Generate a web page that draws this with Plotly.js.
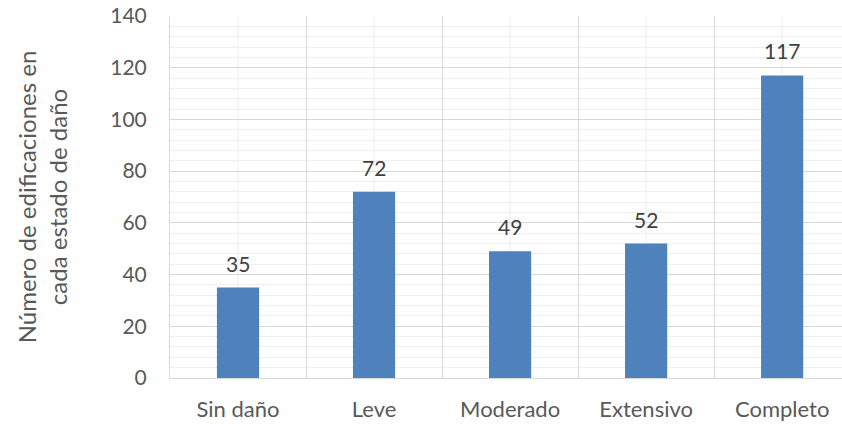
<!DOCTYPE html>
<html>
<head>
<meta charset="utf-8">
<script src="https://cdn.plot.ly/plotly-3.0.1.min.js"></script>
<style>html,body{margin:0;padding:0;background:#fff;}#chart{width:842px;height:424px;}</style>
</head>
<body>
<div id="chart"></div>
<script>
const categories = ["Sin daño", "Leve", "Moderado", "Extensivo", "Completo"];
const values = [35, 72, 49, 52, 117];
const yTitle = "Número de edificaciones en<br>cada estado de daño";

const FONT = "Lato, 'Open Sans', sans-serif";

const trace = {
  type: "bar",
  x: categories,
  y: values,
  marker: {color: "#4f81bd"},
  width: 0.31,
  hoverinfo: "x+y"
};

const annotations = categories.map((c, i) => ({
  x: c, y: values[i], xref: "x", yref: "y",
  text: String(values[i]), showarrow: false,
  yanchor: "bottom", yshift: 10,
  font: {family: FONT, size: 21, color: "#404040"}
}));

const shapes = categories.map(c => ({
  type: "line", xref: "x", yref: "paper",
  x0: c, x1: c, y0: 0, y1: 1,
  line: {color: "#efefef", width: 1}, layer: "below"
}));

const layout = {
  width: 842, height: 424,
  margin: {l: 170, r: 0, t: 16, b: 46},
  paper_bgcolor: "#ffffff", plot_bgcolor: "#ffffff",
  showlegend: false,
  font: {family: FONT, size: 20, color: "#595959"},
  xaxis: {
    type: "category",
    range: [-0.5, 4.44],
    tickson: "boundaries",
    showgrid: true, gridcolor: "#d9d9d9", gridwidth: 1,
    showline: true, linecolor: "#d9d9d9", linewidth: 1,
    ticks: "", ticklabelstandoff: 12,
    tickfont: {family: FONT, size: 22, color: "#595959"}
  },
  yaxis: {
    range: [0, 140],
    tickvals: [0, 20, 40, 60, 80, 100, 120, 140],
    showgrid: true, gridcolor: "#d9d9d9", gridwidth: 1,
    zeroline: false,
    showline: true, linecolor: "#d9d9d9", linewidth: 1,
    ticks: "", ticklabelstandoff: 18,
    tickfont: {family: FONT, size: 21, color: "#595959"},
    minor: {dtick: 4, showgrid: true, gridcolor: "#efefef", gridwidth: 1, ticks: ""},
    title: {text: yTitle, standoff: 35, font: {family: FONT, size: 24, color: "#595959"}}
  },
  annotations: annotations,
  shapes: shapes
};

Plotly.newPlot("chart", [trace], layout, {displayModeBar: false, staticPlot: true});
</script>
</body>
</html>
